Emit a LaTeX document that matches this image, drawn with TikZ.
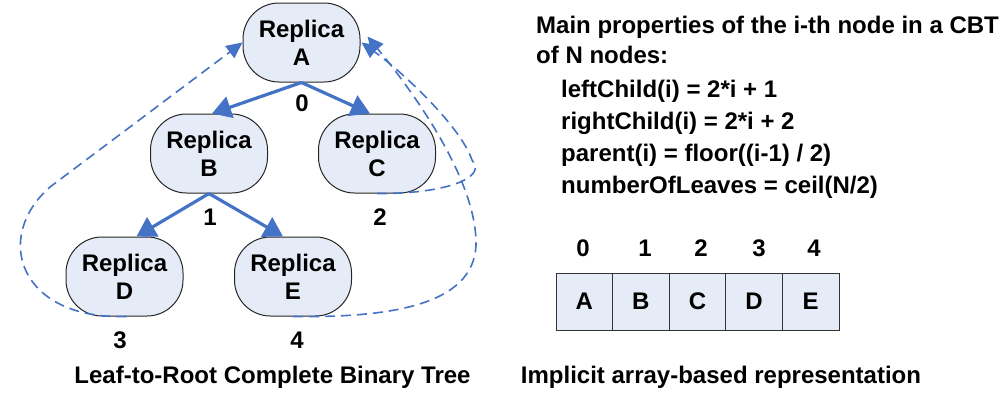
\documentclass[tikz,border=0pt]{standalone}
\usepackage{fontspec}
\setmainfont{Liberation Sans}
\usetikzlibrary{arrows.meta,calc}
\definecolor{arrblue}{HTML}{4472C4}
\definecolor{nodefill}{HTML}{E6ECF7}
\begin{document}
\begin{tikzpicture}[x=1pt,y=-1pt,
  every node/.style={font=\fontsize{24}{28}\selectfont\bfseries},
  replica/.style={draw=black!85,line width=1pt,fill=nodefill,rounded corners=36pt,
    minimum width=117pt,minimum height=79pt,align=center,inner sep=0pt},
  cell/.style={draw=black!80,line width=1pt,fill=nodefill,minimum width=56.6pt,minimum height=57pt,inner sep=0pt},
  treearrow/.style={draw=arrblue,line width=3.2pt,-{Triangle[length=19pt,width=22pt]}},
  backarrow/.style={draw=arrblue,line width=1.6pt,dash pattern=on 10pt off 6pt,-{Triangle[length=16pt,width=15pt]}},
  lbl/.style={inner sep=0pt}]
\useasboundingbox (0,0) rectangle (1000,394);
% tree nodes
\node[replica] (A) at (301.5,42.5) {Replica\\A};
\node[replica] (B) at (209,153.5) {Replica\\B};
\node[replica] (C) at (377,153.5) {Replica\\C};
\node[replica] (D) at (124.5,276.5) {Replica\\D};
\node[replica] (E) at (293,276.5) {Replica\\E};
% index labels
\node[lbl] (n0) at (302,103) {0};
\node[lbl] (n1) at (210,217) {1};
\node[lbl] (n2) at (380,217) {2};
\node[lbl] (n3) at (120,340) {3};
\node[lbl] (n4) at (297,340) {4};
% tree arrows
\draw[treearrow] (A.south) -- ([xshift=3pt]B.north);
\draw[treearrow] (A.south) -- ([xshift=-7pt]C.north);
\draw[treearrow] (B.south) -- ([xshift=12pt]D.north);
\draw[treearrow] (B.south) -- ([xshift=-10pt]E.north);
% dashed leaf-to-root arrows
\draw[backarrow] ([xshift=2pt]D.south) .. controls (20,320) and (-8,238) .. (50,187) -- (A.west);
\draw[backarrow] (C.south) .. controls (445,194) and (488,178) .. (472,160)
   .. controls (460,125) and (400,70) .. ([xshift=1pt]A.east);
\draw[backarrow] (E.south) .. controls (400,318) and (478,302) .. (476,240)
   .. controls (474,180) and (420,100) .. ([shift={(7pt,6pt)}]A.east);
% captions
\node[lbl] (cap1) at (272.5,377) {Leaf-to-Root Complete Binary Tree};
\node[lbl] (cap2) at (721,377) {Implicit array-based representation};
% properties text
\node[lbl,anchor=base west] (p1) at (536,33) {Main properties of the i-th node in a CBT};
\node[lbl,anchor=base west] (p2) at (536,63) {of N nodes:};
\node[lbl,anchor=base west] (p3) at (561,97) {leftChild(i) = 2*i + 1};
\node[lbl,anchor=base west] (p4) at (561,129) {rightChild(i) = 2*i + 2};
\node[lbl,anchor=base west] (p5) at (561,161) {parent(i) = floor((i-1) / 2)};
\node[lbl,anchor=base west] (p6) at (561,193) {numberOfLeaves = ceil(N/2)};
% array
\node[cell] (c0) at (584.3,301.5) {A};
\node[cell] (c1) at (640.9,301.5) {B};
\node[cell] (c2) at (697.5,301.5) {C};
\node[cell] (c3) at (754.1,301.5) {D};
\node[cell] (c4) at (810.7,301.5) {E};
\node[lbl] (i0) at (583,248) {0};
\node[lbl] (i1) at (645,248) {1};
\node[lbl] (i2) at (701,248) {2};
\node[lbl] (i3) at (759,248) {3};
\node[lbl] (i4) at (814,248) {4};
\end{tikzpicture}
\end{document}
